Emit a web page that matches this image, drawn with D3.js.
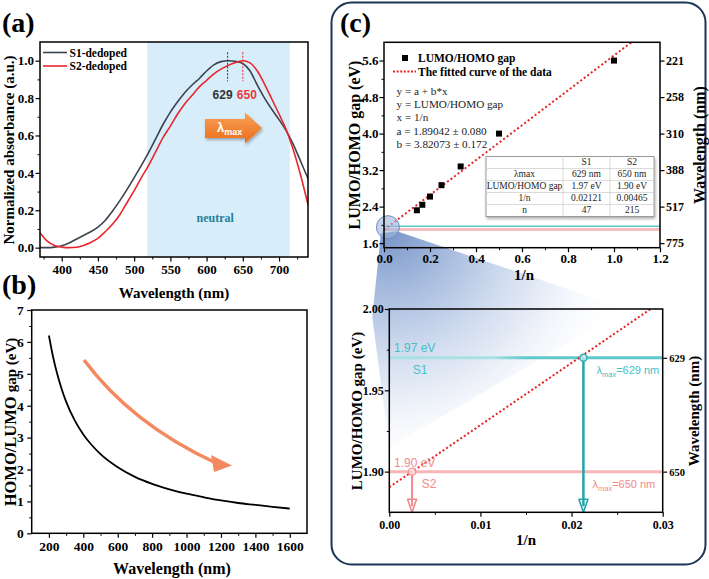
<!DOCTYPE html>
<html><head><meta charset="utf-8">
<script src="https://cdn.jsdelivr.net/npm/d3@7"></script>
<style>body{margin:0;background:#fff}svg{display:block}</style>
</head><body><svg id="c" width="709" height="579"></svg>
<script>
// ---------------- data ----------------
const absWavelength = [370,380,390,400,410,420,430,440,450,460,470,480,490,500,510,520,530,540,550,560,570,580,590,600,610,620,630,640,650,660,670,680,690,700,710,720,730,740];
const absS1 = [0.000,0.000,0.003,0.010,0.025,0.045,0.065,0.085,0.110,0.145,0.195,0.250,0.310,0.375,0.440,0.510,0.585,0.660,0.725,0.780,0.830,0.870,0.905,0.945,0.978,0.995,1.000,0.997,0.985,0.945,0.870,0.800,0.740,0.685,0.625,0.550,0.460,0.370];
const absS2 = [0.080,0.035,0.012,0.003,0.000,0.002,0.012,0.028,0.050,0.085,0.125,0.175,0.240,0.305,0.375,0.440,0.515,0.590,0.650,0.715,0.770,0.815,0.860,0.895,0.930,0.955,0.975,0.990,1.000,0.988,0.945,0.875,0.795,0.715,0.630,0.520,0.385,0.230];
const seriesNames = ["S1-dedoped","S2-dedoped"];
const neutralRange = [518, 715];
const peakLabels = [629, 650];
const absXTicks = [400,450,500,550,600,650,700];
const absYTicks = [0,0.2,0.4,0.6,0.8,1.0];

const gapWavelength = [200,225,250,275,300,350,400,450,500,600,700,800,900,1000,1100,1200,1300,1400,1500,1600];
const gapValue = [6.2,5.51,4.96,4.51,4.13,3.54,3.1,2.76,2.48,2.07,1.77,1.55,1.38,1.24,1.13,1.03,0.95,0.89,0.83,0.775];
const gapXTicks = [200,400,600,800,1000,1200,1400,1600];
const gapYTicks = [0,1,2,3,4,5,6,7];

const invN = [1.0,0.5,0.3333,0.25,0.2,0.1667,0.1429];
const gapEV = [5.6,4.0,3.28,2.87,2.62,2.44,2.32];
const fitA = 1.89042, fitB = 3.82073;
const fitXTicks = [0,0.2,0.4,0.6,0.8,1.0,1.2];
const fitYTicks = [1.6,2.4,3.2,4.0,4.8,5.6];
const fitRightTickGap = [5.6,4.8,4.0,3.2,2.4,1.6];
const fitRightTickLabels = ["221","258","310","388","517","775"];
const legendLabels = ["LUMO/HOMO gap","The fitted curve of the data"];
const eqLines = ["y = a + b*x","y = LUMO/HOMO gap","x = 1/n","a = 1.89042 ± 0.080","b = 3.82073 ± 0.172"];
const tableHeader = ["","S1","S2"];
const tableRows = [["λmax","629 nm","650 nm"],["LUMO/HOMO gap","1.97 eV","1.90 eV"],["1/n","0.02121","0.00465"],["n","47","215"]];

const sampleNames = ["S1","S2"];
const sampleGap = [1.97, 1.90];
const sampleInvN = [0.0213, 0.0025];
const sampleLambda = [629, 650];
const zoomXTicks = [0,0.01,0.02,0.03];
const zoomYTicks = [1.90,1.95,2.00];
const zoomFocus = [0.017, 1.95];

// ---------------- helpers ----------------
const SERIF = '"Liberation Serif","Times New Roman",serif';
const SANS = '"Liberation Sans",Arial,sans-serif';
const svg = d3.select("#c");
const defs = svg.append("defs");

function drawAxis(tx, ty, scale, orient, major, minor, fmt, fs, pad){
  const mk = {bottom:d3.axisBottom, left:d3.axisLeft, right:d3.axisRight}[orient];
  const g = svg.append("g").attr("transform",`translate(${tx},${ty})`);
  if (minor && minor.length){
    const gm = g.append("g").call(mk(scale).tickValues(minor).tickSize(2.5).tickFormat(""));
    gm.select(".domain").remove();
    gm.selectAll("line").attr("stroke","#000").attr("stroke-width",1);
  }
  const ga = g.append("g").call(mk(scale).tickValues(major).tickSize(4.5).tickPadding(pad).tickFormat(fmt));
  ga.select(".domain").remove();
  ga.selectAll("line").attr("stroke","#000").attr("stroke-width",1.2);
  ga.selectAll("text").attr("font-family",SERIF).attr("font-weight","bold").attr("font-size",fs).attr("fill","#000");
  return g;
}
function frame(x0,y0,x1,y1){
  svg.append("rect").attr("x",x0).attr("y",y0).attr("width",x1-x0).attr("height",y1-y0)
    .attr("fill","none").attr("stroke","#000").attr("stroke-width",1.5);
}
function txt(x,y,s,o){
  const t = svg.append("text").attr("x",x).attr("y",y).text(s)
    .attr("font-family",o.fam||SERIF).attr("font-size",o.fs||12)
    .attr("font-weight",o.fw||"normal").attr("fill",o.fill||"#000");
  if (o.anchor) t.attr("text-anchor",o.anchor);
  if (o.rot){ t.attr("transform",`rotate(${o.rot},${x},${y})`).attr("dy","0.35em"); }
  return t;
}

// ================= Panel (a) =================
const ax = d3.scaleLinear().domain([370,740]).range([40,308]);
const ay = d3.scaleLinear().domain([-0.05,1.1]).range([257,42]);
svg.append("rect").attr("x",ax(neutralRange[0])).attr("y",ay(1.1))
  .attr("width",ax(neutralRange[1])-ax(neutralRange[0])).attr("height",ay(-0.05)-ay(1.1)).attr("fill","#d8edfa");
const lineA = (vals)=>d3.line().x((d,i)=>ax(absWavelength[i])).y(d=>ay(d)).curve(d3.curveMonotoneX)(vals);
svg.append("path").attr("d",lineA(absS1)).attr("fill","none").attr("stroke","#3b434e").attr("stroke-width",1.6);
svg.append("path").attr("d",lineA(absS2)).attr("fill","none").attr("stroke","#e8262b").attr("stroke-width",1.6);
// peak markers
svg.append("line").attr("x1",ax(peakLabels[0])).attr("x2",ax(peakLabels[0])).attr("y1",ay(1.045)).attr("y2",ay(0.89))
  .attr("stroke","#333").attr("stroke-width",1).attr("stroke-dasharray","2,1.5");
svg.append("line").attr("x1",ax(peakLabels[1])).attr("x2",ax(peakLabels[1])).attr("y1",ay(1.045)).attr("y2",ay(0.89))
  .attr("stroke","#e8262b").attr("stroke-width",1).attr("stroke-dasharray","2,1.5");
txt(ax(peakLabels[0])-5,99,String(peakLabels[0]),{fam:SANS,fs:12,fw:"bold",fill:"#333",anchor:"middle"});
txt(ax(peakLabels[1])+4,99,String(peakLabels[1]),{fam:SANS,fs:12,fw:"bold",fill:"#e8393b",anchor:"middle"});
// orange arrow
const og = defs.append("linearGradient").attr("id","og").attr("x1",0).attr("y1",0).attr("x2",0).attr("y2",1);
og.append("stop").attr("offset","0").attr("stop-color","#f8a25a");
og.append("stop").attr("offset","1").attr("stop-color","#ea6c18");
const sh = defs.append("filter").attr("id","sh").attr("x","-20%").attr("y","-20%").attr("width","150%").attr("height","160%");
sh.append("feDropShadow").attr("dx",1).attr("dy",2).attr("stdDeviation",1.5).attr("flood-color","#000").attr("flood-opacity",0.3);
const arY = 128;
svg.append("path").attr("d",`M205,${arY-9}H245V${arY-15.5}L262,${arY}L245,${arY+15.5}V${arY+10}H205Z`)
  .attr("fill","url(#og)").attr("filter","url(#sh)");
const lt = svg.append("text").attr("x",217).attr("y",132).attr("font-family",SANS).attr("font-weight","bold").attr("fill","#fff");
lt.append("tspan").attr("font-size",13).text("λ");
lt.append("tspan").attr("font-size",9).attr("dy",3).text("max");
txt(ax(612),222,"neutral",{fs:12,fw:"bold",fill:"#1f7f9b",anchor:"middle"});
// legend
[["#3b434e",52.5],["#e8262b",66]].forEach(([c,y],i)=>{
  svg.append("line").attr("x1",43).attr("x2",67).attr("y1",y).attr("y2",y).attr("stroke",c).attr("stroke-width",1.6);
  txt(69.5,y+4,seriesNames[i],{fs:11.5,fw:"bold"});
});
drawAxis(0,257,ax,"bottom",absXTicks,d3.range(375,740,50),d=>d,13,3);
drawAxis(40,0,ay,"left",absYTicks,[0.1,0.3,0.5,0.7,0.9],d3.format(".1f"),13,1.5);
frame(40,42,308,257);
txt(9,150,"Normalized absorbance (a.u.)",{fs:15,fw:"bold",anchor:"middle",rot:-90});
txt(174,298,"Wavelength (nm)",{fs:15,fw:"bold",anchor:"middle"});
txt(2,32,"(a)",{fs:28,fw:"bold"});

// ================= Panel (b) =================
const bx = d3.scaleLinear().domain([100,1700]).range([31.7,307]);
const by = d3.scaleLinear().domain([0,7]).range([533.3,310]);
svg.append("path").attr("d",d3.line().x((d,i)=>bx(gapWavelength[i])).y(d=>by(d)).curve(d3.curveMonotoneX)(gapValue))
  .attr("fill","none").attr("stroke","#000").attr("stroke-width",1.8);
svg.append("path").attr("d","M84,360 Q132,424 214,462").attr("fill","none").attr("stroke","#f4895f").attr("stroke-width",3.5);
svg.append("path").attr("d","M232,465.5 L211,455 L214,472 Z").attr("fill","#f4895f");
drawAxis(0,533.3,bx,"bottom",gapXTicks,d3.range(300,1700,200),d=>d,13.5,3.5);
drawAxis(31.7,0,by,"left",gapYTicks,d3.range(0.5,7,1),d=>d,13.5,3.5);
frame(31.7,310,307,533.3);
const bt = svg.append("text").attr("transform","translate(10,422) rotate(-90)").attr("dy","0.35em")
  .attr("text-anchor","middle").attr("font-family",SERIF).attr("font-weight","bold");
bt.append("tspan").attr("font-size",16.5).text("HOMO/LUMO ");
bt.append("tspan").attr("font-size",15).text("gap (eV)");
txt(172,574,"Wavelength (nm)",{fs:16,fw:"bold",anchor:"middle"});
txt(2,294,"(b)",{fs:28,fw:"bold"});

// ================= Panel (c) =================
svg.append("rect").attr("x",331.5).attr("y",2.5).attr("width",374).attr("height",562).attr("rx",20)
  .attr("fill","none").attr("stroke","#1d3556").attr("stroke-width",2);
txt(340,32,"(c)",{fs:28,fw:"bold"});

const cx = d3.scaleLinear().domain([0,1.2]).range([384,660]);
const cy = d3.scaleLinear().domain([1.5,6.0]).range([247.7,42.3]);
const lx = d3.scaleLinear().domain([0,0.03]).range([389.3,662.7]);
const ly = d3.scaleLinear().domain([1.875,2.0]).range([512.3,309]);

defs.append("clipPath").attr("id","clipU").append("rect").attr("x",384).attr("y",42.3).attr("width",276).attr("height",205.4);
defs.append("clipPath").attr("id","clipL").append("rect").attr("x",389.3).attr("y",309).attr("width",273.4).attr("height",203.3);

// wedge (zoom projection)
const fx = cx(zoomFocus[0]), fy = cy(zoomFocus[1]);
const wg = defs.append("radialGradient").attr("id","wg").attr("gradientUnits","userSpaceOnUse")
  .attr("cx",fx).attr("cy",fy).attr("r",250);
wg.append("stop").attr("offset","0").attr("stop-color","#6f8dc4").attr("stop-opacity",0.95);
wg.append("stop").attr("offset","0.3").attr("stop-color","#9fb6dc").attr("stop-opacity",0.85);
wg.append("stop").attr("offset","0.65").attr("stop-color","#d6e0f1").attr("stop-opacity",0.65);
wg.append("stop").attr("offset","1").attr("stop-color","#ffffff").attr("stop-opacity",0);
svg.append("path").attr("d",`M${fx-7},${fy+6} L${fx+9},${fy+4} L${lx(0.026)},${ly(2.0)} L${lx(0)},${ly(1.915)} L${lx(0)-17},${ly(1.995)} Z`)
  .attr("fill","url(#wg)");

// ---- upper plot ----
const gU = svg.append("g").attr("clip-path","url(#clipU)");
gU.append("line").attr("x1",cx(0)).attr("x2",cx(1.2)).attr("y1",cy(sampleGap[1])).attr("y2",cy(sampleGap[1]))
  .attr("stroke","#f5b4b4").attr("stroke-width",2.5);
gU.append("line").attr("x1",cx(0)).attr("x2",cx(1.2)).attr("y1",cy(sampleGap[0])).attr("y2",cy(sampleGap[0]))
  .attr("stroke","#5cc8cc").attr("stroke-width",1.5);
gU.append("line").attr("x1",cx(0)).attr("y1",cy(fitA)).attr("x2",cx(1.2)).attr("y2",cy(fitA+fitB*1.2))
  .attr("stroke","#e52222").attr("stroke-width",2).attr("stroke-dasharray","2,2.4");
gU.selectAll("rect.pt").data(invN).join("rect").attr("class","pt")
  .attr("x",(d)=>cx(d)-3).attr("y",(d,i)=>cy(gapEV[i])-3).attr("width",6).attr("height",6).attr("fill","#000");
svg.append("circle").attr("cx",fx).attr("cy",fy).attr("r",11.5)
  .attr("fill","#9fb6dc").attr("fill-opacity",0.6).attr("stroke","#6e8fc4").attr("stroke-width",1);

// legend + equation
svg.append("rect").attr("x",402).attr("y",55).attr("width",6).attr("height",6).attr("fill","#000");
txt(418,62,legendLabels[0],{fs:11.5,fw:"bold"});
svg.append("line").attr("x1",393).attr("x2",416).attr("y1",71.5).attr("y2",71.5).attr("stroke","#e52222").attr("stroke-width",2).attr("stroke-dasharray","2,1.6");
txt(418,75.5,legendLabels[1],{fs:11.5,fw:"bold"});
eqLines.forEach((s,i)=>txt(396.5,94.5+i*13.4,s,{fs:11.2,fill:"#222"}));

// table
const tX = [486,563,610,654], tY0 = 156.5, rh = 12;
svg.append("rect").attr("x",tX[0]).attr("y",tY0).attr("width",tX[3]-tX[0]).attr("height",rh*5)
  .attr("fill","#fff").attr("stroke","#9a9a9a").attr("stroke-width",1).attr("filter","url(#sh)");
for (let r=1;r<5;r++) svg.append("line").attr("x1",tX[0]).attr("x2",tX[3]).attr("y1",tY0+r*rh).attr("y2",tY0+r*rh).attr("stroke","#d0d0d0").attr("stroke-width",0.8);
[1,2].forEach(c=>svg.append("line").attr("x1",tX[c]).attr("x2",tX[c]).attr("y1",tY0).attr("y2",tY0+rh*5).attr("stroke","#d0d0d0").attr("stroke-width",0.8));
[tableHeader].concat(tableRows).forEach((row,r)=>row.forEach((s,c)=>{
  if (s) txt((tX[c]+tX[c+1])/2,tY0+r*rh+8.8,s,{fs:9.5,anchor:"middle",fill:"#222"});
}));

drawAxis(0,247.7,cx,"bottom",fitXTicks,[0.1,0.3,0.5,0.7,0.9,1.1],d3.format(".1f"),13,1.5);
drawAxis(384,0,cy,"left",fitYTicks,[2.0,2.8,3.6,4.4,5.2],d3.format(".1f"),13,1);
drawAxis(660,0,cy,"right",fitRightTickGap,[],(d,i)=>fitRightTickLabels[i],12,1.5);
frame(384,42.3,660,247.7);
txt(354,145,"LUMO/HOMO gap (eV)",{fs:16,fw:"bold",anchor:"middle",rot:-90});
txt(699,145,"Wavelength (nm)",{fs:16,fw:"bold",anchor:"middle",rot:-90});
txt(524,280,"1/n",{fs:15,fw:"bold",anchor:"middle"});

// ---- lower (zoom) plot ----
const gL = svg.append("g").attr("clip-path","url(#clipL)");
const cg = defs.append("linearGradient").attr("id","cg").attr("gradientUnits","userSpaceOnUse")
  .attr("x1",lx(0)).attr("x2",lx(0.03)).attr("y1",0).attr("y2",0);
cg.append("stop").attr("offset","0").attr("stop-color","#a9e1e3");
cg.append("stop").attr("offset","0.38").attr("stop-color","#a9e1e3");
cg.append("stop").attr("offset","0.5").attr("stop-color","#5ec8cc");
cg.append("stop").attr("offset","1").attr("stop-color","#5ec8cc");
gL.append("line").attr("x1",lx(0)).attr("x2",lx(0.03)).attr("y1",ly(sampleGap[1])).attr("y2",ly(sampleGap[1]))
  .attr("stroke","#f7b5b5").attr("stroke-width",3);
gL.append("line").attr("x1",lx(0)).attr("x2",lx(0.03)).attr("y1",ly(sampleGap[0])).attr("y2",ly(sampleGap[0]))
  .attr("stroke","url(#cg)").attr("stroke-width",3);
gL.append("line").attr("x1",lx(0)).attr("y1",ly(fitA)).attr("x2",lx(0.03)).attr("y2",ly(fitA+fitB*0.03))
  .attr("stroke","#e52222").attr("stroke-width",2).attr("stroke-dasharray","2,2.3");
// arrows
const arrowCol = ["#22a5aa","#f08a8a"];
sampleInvN.forEach((v,i)=>{
  const x = lx(v), y0 = ly(sampleGap[i]), y1 = ly(1.875);
  svg.append("line").attr("x1",x).attr("x2",x).attr("y1",y0).attr("y2",y1-6).attr("stroke",arrowCol[i]).attr("stroke-width",i===0?2.5:2);
  svg.append("path").attr("d",`M${x-4.5},${y1-13} L${x},${y1} L${x+4.5},${y1-13} Z`)
    .attr("fill","none").attr("stroke",arrowCol[i]).attr("stroke-width",1.6).attr("stroke-linejoin","round");
  svg.append("circle").attr("cx",x).attr("cy",y0).attr("r",3.5).attr("fill","#fff").attr("fill-opacity",0.6)
    .attr("stroke",i===0?"#2fb0b4":"#f29a9a").attr("stroke-width",1.5);
});
const labCol = ["#45c0c6","#f28a8a"];
txt(394,352,"1.97 eV",{fam:SANS,fs:12,fill:labCol[0]});
txt(412.7,374,sampleNames[0],{fam:SANS,fs:12,fill:labCol[0]});
txt(394,466.5,"1.90 eV",{fam:SANS,fs:12,fill:labCol[1]});
txt(421.7,488,sampleNames[1],{fam:SANS,fs:12,fill:labCol[1]});
[[596.5,374,0],[592.5,488,1]].forEach(([x,y,i])=>{
  const t = svg.append("text").attr("x",x).attr("y",y).attr("font-family",SANS).attr("fill",labCol[i]);
  t.append("tspan").attr("font-size",11).text("λ");
  t.append("tspan").attr("font-size",7.5).attr("dy",3).text("max");
  t.append("tspan").attr("font-size",11).attr("dy",-3).text(`=${sampleLambda[i]} nm`);
});
drawAxis(0,512.3,lx,"bottom",zoomXTicks,[0.005,0.015,0.025],d3.format(".2f"),12,3.5);
drawAxis(389.3,0,ly,"left",zoomYTicks,[1.925,1.975],d3.format(".2f"),12,1);
drawAxis(662.7,0,ly,"right",sampleGap,[],(d,i)=>String(sampleLambda[i]),10.5,2);
frame(389.3,309,662.7,512.3);
txt(356.5,411,"LUMO/HOMO gap (eV)",{fs:15,fw:"bold",anchor:"middle",rot:-90});
txt(693.5,411,"Wavelength (nm)",{fs:15,fw:"bold",anchor:"middle",rot:-90});
txt(526,545,"1/n",{fs:15,fw:"bold",anchor:"middle"});
</script></body></html>
